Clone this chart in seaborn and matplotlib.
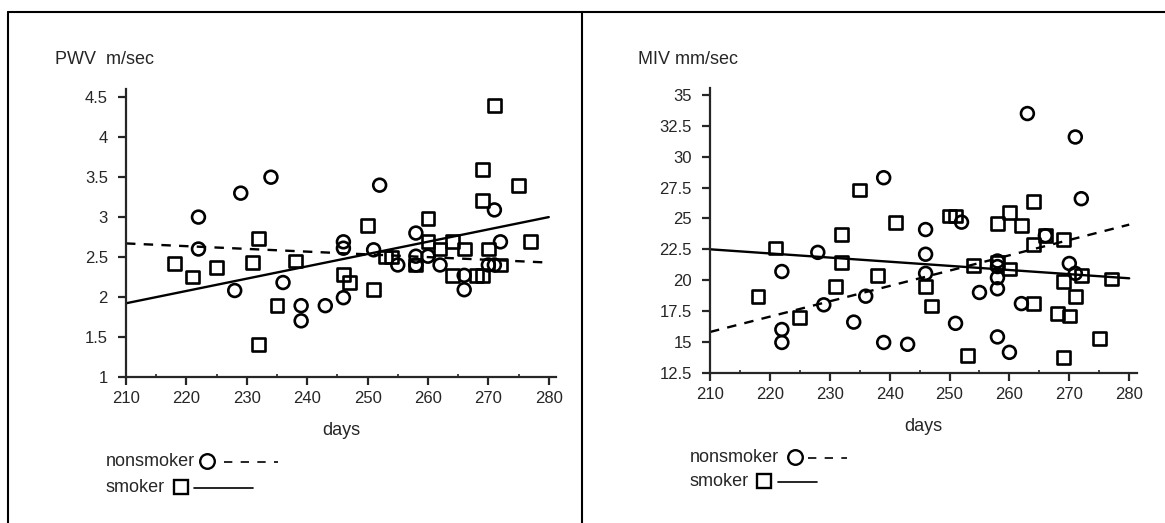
import numpy as np
import pandas as pd
import matplotlib
matplotlib.use("Agg")
import matplotlib.pyplot as plt
from matplotlib.lines import Line2D
from matplotlib.ticker import MultipleLocator, FormatStrFormatter
import seaborn as sns

# PWV panel (m/sec)
pwv_non_days = [222, 222, 229, 234, 228, 236, 239, 239, 243, 246, 246, 246, 252,
                251, 258, 255, 258, 258, 260, 262, 266, 266, 270, 271, 271, 272]
pwv_non_vals = [3.0, 2.6, 3.3, 3.5, 2.08, 2.18, 1.89, 1.70, 1.89, 1.99, 2.69, 2.61, 3.40,
                2.59, 2.80, 2.40, 2.51, 2.40, 2.51, 2.40, 2.27, 2.09, 2.40, 2.40, 3.09, 2.69]
pwv_smk_days = [218, 221, 225, 231, 232, 232, 235, 238, 246, 247, 251, 250, 260, 269,
                269, 275, 271, 277, 253, 254, 258, 260, 262, 264, 264, 266, 268, 270,
                272, 269]
pwv_smk_vals = [2.42, 2.25, 2.37, 2.43, 2.73, 1.40, 1.89, 2.45, 2.28, 2.18, 2.09, 2.89,
                2.98, 3.60, 3.21, 3.40, 4.40, 2.69, 2.50, 2.50, 2.40, 2.69, 2.60, 2.69,
                2.27, 2.60, 2.27, 2.60, 2.40, 2.27]

# MIV panel (mm/sec)
miv_non_days = [239, 246, 246, 228, 222, 222, 222, 229, 234, 236, 239, 243, 246, 263,
                271, 272, 252, 266, 258, 258, 258, 258, 255, 251, 258, 260, 262, 270, 271]
miv_non_vals = [28.3, 24.1, 22.1, 22.25, 20.7, 16.0, 14.95, 18.0, 16.6, 18.7, 14.95,
                14.8, 20.55, 33.5, 31.6, 26.6, 24.7, 23.6, 21.55, 21.1, 20.2, 19.3, 19.0,
                16.5, 15.4, 14.15, 18.1, 21.35, 20.55]
miv_smk_days = [218, 221, 225, 231, 232, 232, 238, 241, 246, 247, 235, 250, 251, 258,
                260, 262, 264, 266, 264, 269, 254, 258, 260, 253, 264, 268, 270, 269,
                271, 272, 277, 275, 269]
miv_smk_vals = [18.7, 22.6, 17.0, 19.5, 21.4, 23.7, 20.35, 24.7, 19.5, 17.9, 27.3, 25.2,
                25.2, 24.6, 25.5, 24.4, 26.35, 23.6, 22.9, 23.3, 21.2, 21.4, 20.9, 13.9,
                18.1, 17.3, 17.1, 19.9, 18.7, 20.4, 20.1, 15.3, 13.75]

# regression lines as drawn (values at start/end day)
fit_days = [210, 280]
pwv_non_fit = [2.67, 2.43]
pwv_smk_fit = [1.92, 3.00]
miv_non_fit = [15.8, 24.5]
miv_smk_fit = [22.5, 20.15]

W, H = 1165, 523


def fx(x):
    return x / W


def fy(y):
    return 1 - y / H


sns.set_style("ticks")
plt.rcParams["font.family"] = ["Liberation Sans", "DejaVu Sans"]
plt.rcParams["axes.linewidth"] = 1.6

fig = plt.figure(figsize=(W / 100, H / 100), dpi=100)

dash = (0, (4, 3.5))


def panel(box, xlim, ylim, ystep, non_d, non_v, smk_d, smk_v, non_fit, smk_fit,
          title, title_xy):
    x0, x1, y0, y1 = box
    ax = fig.add_axes([fx(x0), fy(y1), fx(x1 - x0), (y1 - y0) / H])
    non = pd.DataFrame({"days": non_d, "val": non_v})
    smk = pd.DataFrame({"days": smk_d, "val": smk_v})
    sns.scatterplot(data=non, x="days", y="val", marker="o", s=85, facecolor="none",
                    edgecolor="black", linewidth=1.9, ax=ax, zorder=3)
    sns.scatterplot(data=smk, x="days", y="val", marker="s", s=85, facecolor="none",
                    edgecolor="black", linewidth=1.9, ax=ax, zorder=3)
    fits = pd.DataFrame({"days": fit_days, "non": non_fit, "smk": smk_fit})
    sns.lineplot(data=fits, x="days", y="non", color="black", lw=1.7, ax=ax,
                 linestyle=dash)
    sns.lineplot(data=fits, x="days", y="smk", color="black", lw=1.7, ax=ax)
    ax.set_xticks([210, 220, 230, 240, 250, 260, 270, 280])
    ax.xaxis.set_minor_locator(MultipleLocator(5))
    ax.yaxis.set_major_locator(MultipleLocator(ystep))
    ax.yaxis.set_major_formatter(FormatStrFormatter("%g"))
    ax.set_xlim(*xlim)
    ax.set_ylim(*ylim)
    ax.tick_params(axis="both", which="major", direction="out", length=6, width=1.6,
                   labelsize=12)
    ax.tick_params(axis="y", which="major", pad=7)
    ax.tick_params(axis="x", which="major", pad=4)
    ax.tick_params(axis="x", which="minor", direction="in", length=2.5, width=1.2)
    ax.set_xlabel("days", fontsize=13, labelpad=12)
    ax.set_ylabel("")
    sns.despine(ax=ax)
    fig.text(fx(title_xy[0]), fy(title_xy[1]), title, fontsize=13, ha="left",
             va="center")
    return ax


ax1 = panel((126, 556, 89, 376.7), (210, 281.2), (1, 4.605), 0.5,
            pwv_non_days, pwv_non_vals, pwv_smk_days, pwv_smk_vals,
            pwv_non_fit, pwv_smk_fit, "PWV  m/sec", (55, 60))
ax2 = panel((710, 1137, 88, 372.7), (210, 281.3), (12.5, 35.57), 2.5,
            miv_non_days, miv_non_vals, miv_smk_days, miv_smk_vals,
            miv_non_fit, miv_smk_fit, "MIV mm/sec", (638, 60))


# legends drawn as label, marker, line sample
def legend(x_text, y1, circ_x, dash_x, y2, sq_x, line_x):
    fig.text(fx(x_text), fy(y1), "nonsmoker", fontsize=13, ha="left", va="center")
    fig.add_artist(Line2D([fx(circ_x)], [fy(y1 - 1)], marker="o", ms=10.5, mfc="none",
                          mec="black", mew=1.7, transform=fig.transFigure))
    fig.add_artist(Line2D([fx(dash_x[0]), fx(dash_x[1])], [fy(y1), fy(y1)], color="black",
                          lw=1.2, linestyle=(0, (5, 5)), transform=fig.transFigure))
    fig.text(fx(x_text), fy(y2), "smoker", fontsize=13, ha="left", va="center")
    fig.add_artist(Line2D([fx(sq_x)], [fy(y2 - 1)], marker="s", ms=10.5, mfc="none",
                          mec="black", mew=1.7, transform=fig.transFigure))
    fig.add_artist(Line2D([fx(line_x[0]), fx(line_x[1])], [fy(y2), fy(y2)], color="black",
                          lw=1.2, transform=fig.transFigure))


legend(106, 462, 207, (224, 278), 488, 181, (194, 253))
legend(690, 458, 795, (808, 847), 482, 764, (778, 817))

# outer frame lines
for xs, ys in [((8, 8), (12, 523)), ((582, 582), (12, 523)), ((8, 1165), (12, 12))]:
    fig.add_artist(Line2D([fx(xs[0]), fx(xs[1])], [fy(ys[0]), fy(ys[1])], color="black",
                          lw=1.5, transform=fig.transFigure))

fig.savefig("out.png", dpi=100, facecolor="white")
